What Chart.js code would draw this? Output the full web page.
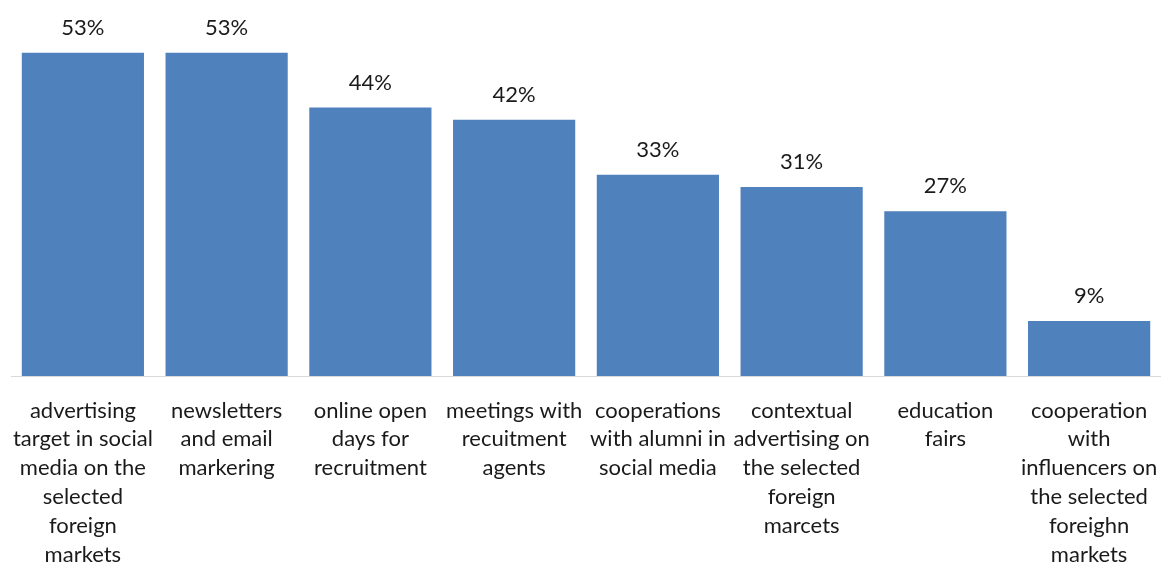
<!DOCTYPE html>
<html>
<head>
<meta charset="utf-8">
<script src="https://cdn.jsdelivr.net/npm/chart.js@4"></script>
<style>
  html, body { margin: 0; padding: 0; background: #fff; }
  #wrap { width: 1161px; height: 563px; }
</style>
</head>
<body>
<div id="wrap"><canvas id="grafica"></canvas></div>
<script>
// categorías (una línea por renglón, como en la figura)
const categorias = [
    ['advertising', 'target in social', 'media on the', 'selected', 'foreign', 'markets'],
    ['newsletters', 'and email', 'markering'],
    ['online open', 'days for', 'recruitment'],
    ['meetings with', 'recuitment', 'agents'],
    ['cooperations', 'with alumni in', 'social media'],
    ['contextual', 'advertising on', 'the selected', 'foreign', 'marcets'],
    ['education', 'fairs'],
    ['cooperation', 'with', 'influencers on', 'the selected', 'foreighn', 'markets'],
];

// porcentajes
const valores = [53, 53, 44, 42, 33, 31, 27, 9];

const fuente = 'Lato, "Open Sans", sans-serif';

// etiquetas encima de cada barra
const etiquetasBarras = {
    id: 'etiquetasBarras',
    afterDatasetsDraw(chart) {
        const ctx = chart.ctx;
        const meta = chart.getDatasetMeta(0);
        ctx.save();
        ctx.font = `22px ${fuente}`;
        ctx.fillStyle = '#1a1a1a';
        ctx.textAlign = 'center';
        ctx.textBaseline = 'middle';
        meta.data.forEach((bar, i) => {
            ctx.fillText(`${valores[i]}%`, bar.x, bar.y - 25);
        });
        ctx.restore();
    },
};

new Chart(document.getElementById('grafica'), {
    type: 'bar',
    data: {
        labels: categorias,
        datasets: [{
            data: valores,
            backgroundColor: '#4f81bd',
            borderWidth: 0,
            categoryPercentage: 1,
            barPercentage: 0.85,
        }],
    },
    options: {
        responsive: true,
        maintainAspectRatio: false,
        animation: false,
        layout: { padding: { top: 10, left: 11, right: 0, bottom: 0 } },
        plugins: {
            legend: { display: false },
            tooltip: { enabled: false },
        },
        scales: {
            x: {
                grid: { display: false, drawTicks: false },
                border: { display: true, color: '#d9d9d9', width: 1 },
                ticks: {
                    color: '#1a1a1a',
                    font: { family: fuente, size: 22, lineHeight: 1.31 },
                    padding: 20,
                    maxRotation: 0,
                    autoSkip: false,
                },
                afterFit(scale) {
                    scale.height = 187;
                    scale.paddingLeft = 0;
                    scale.paddingRight = 0;
                },
            },
            y: {
                display: false,
                min: 0,
                max: 60,
            },
        },
    },
    plugins: [etiquetasBarras],
});
</script>
</body>
</html>
